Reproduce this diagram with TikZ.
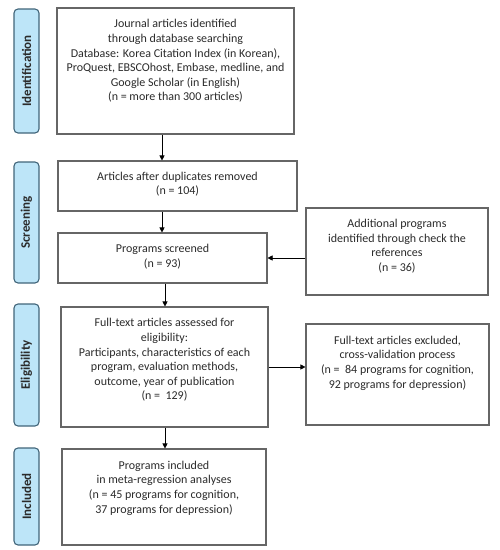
\documentclass[tikz,border=0pt]{standalone}
\usepackage{fontspec}
\setmainfont{Carlito}
\usetikzlibrary{arrows.meta,calc}
\definecolor{labfill}{HTML}{BDE5F8}
\definecolor{labdraw}{HTML}{41657A}
\definecolor{boxdraw}{HTML}{666666}
\definecolor{txt}{HTML}{2B2B2B}
\begin{document}
\begin{tikzpicture}[x=1pt,y=-1pt,
  box/.style={draw=boxdraw, line width=1.1pt, fill=white, inner sep=0pt},
  btxt/.style={align=center, inner sep=0pt, text=txt, font=\fontsize{12}{14.6}\selectfont},
  lab/.style={draw=labdraw, line width=1.1pt, fill=labfill, rounded corners=4pt, inner sep=0pt,
     minimum height=25pt, rotate=90, text=txt, font=\bfseries\fontsize{13}{15}\selectfont},
  arr/.style={-{Triangle[length=5pt,width=5pt]}, line width=0.6pt, black}]
\useasboundingbox (0,0) rectangle (500,550);
% phase labels
\node[lab, minimum width=124pt] (lid) at (26.5,71) {Identification};
\node[lab, minimum width=121pt] (lsc) at (26.5,222.5) {Screening};
\node[lab, minimum width=122pt] (lel) at (26.5,365) {Eligibility};
\node[lab, minimum width=97pt] (lin) at (26.5,496.5) {Included};
% boxes
\node[box, minimum width=237pt, minimum height=126pt] (b1) at (175.5,71) {};
\node[box, minimum width=239pt, minimum height=50pt] (b2) at (177.5,186) {};
\node[box, minimum width=209pt, minimum height=50pt] (b3) at (162.5,258) {};
\node[box, minimum width=182pt, minimum height=87pt] (add) at (397,251.5) {};
\node[box, minimum width=207pt, minimum height=120pt] (b4) at (164.5,367) {};
\node[box, minimum width=183pt, minimum height=101pt] (excl) at (397.5,374.5) {};
\node[box, minimum width=204pt, minimum height=96pt] (b5) at (164,497) {};
% texts
\node[btxt] (t1) at ($(b1.center)+(0,-10)$) {Journal articles identified\\through database searching\\Database: Korea Citation Index (in Korean),\\ProQuest, EBSCOhost, Embase, medline, and\\Google Scholar (in English)\\(n = more than 300 articles)};
\node[btxt] (t2) at ($(b2.center)+(0,-2)$) {Articles after duplicates removed\\(n = 104)};
\node[btxt] (t3) at ($(b3.center)+(0,-1.5)$) {Programs screened\\(n = 93)};
\node[btxt] (tadd) at ($(add.center)+(0,-5.5)$) {Additional programs\\identified through check the\\references\\(n = 36)};
\node[btxt] (t4) at ($(b4.center)+(0,-7)$) {Full-text articles assessed for\\eligibility:\\Participants, characteristics of each\\program, evaluation methods,\\outcome, year of publication\\(n =~ 129)};
\node[btxt] (texcl) at ($(excl.center)+(0,-11.5)$) {Full-text articles excluded,\\cross-validation process\\(n =~ 84 programs for cognition,\\92 programs for depression)};
\node[btxt] (t5) at ($(b5.center)+(0,-9)$) {Programs included\\in meta-regression analyses\\(n = 45 programs for cognition,\\37 programs for depression)};
% connectors
\coordinate (x1) at (162,0);
\coordinate (x2) at (165,0);
\draw[arr] (b1.south -| x1) -- (b2.north -| x1);
\draw[arr] (b2.south -| x1) -- (b3.north -| x1);
\draw[arr] (b3.south -| x2) -- (b4.north -| x2);
\draw[arr] (b4.south -| x2) -- (b5.north -| x2);
\draw[arr] (add.west |- b3.east) -- (b3.east);
\draw[arr] (b4.east) -- (excl.west |- b4.east);
\end{tikzpicture}
\end{document}
